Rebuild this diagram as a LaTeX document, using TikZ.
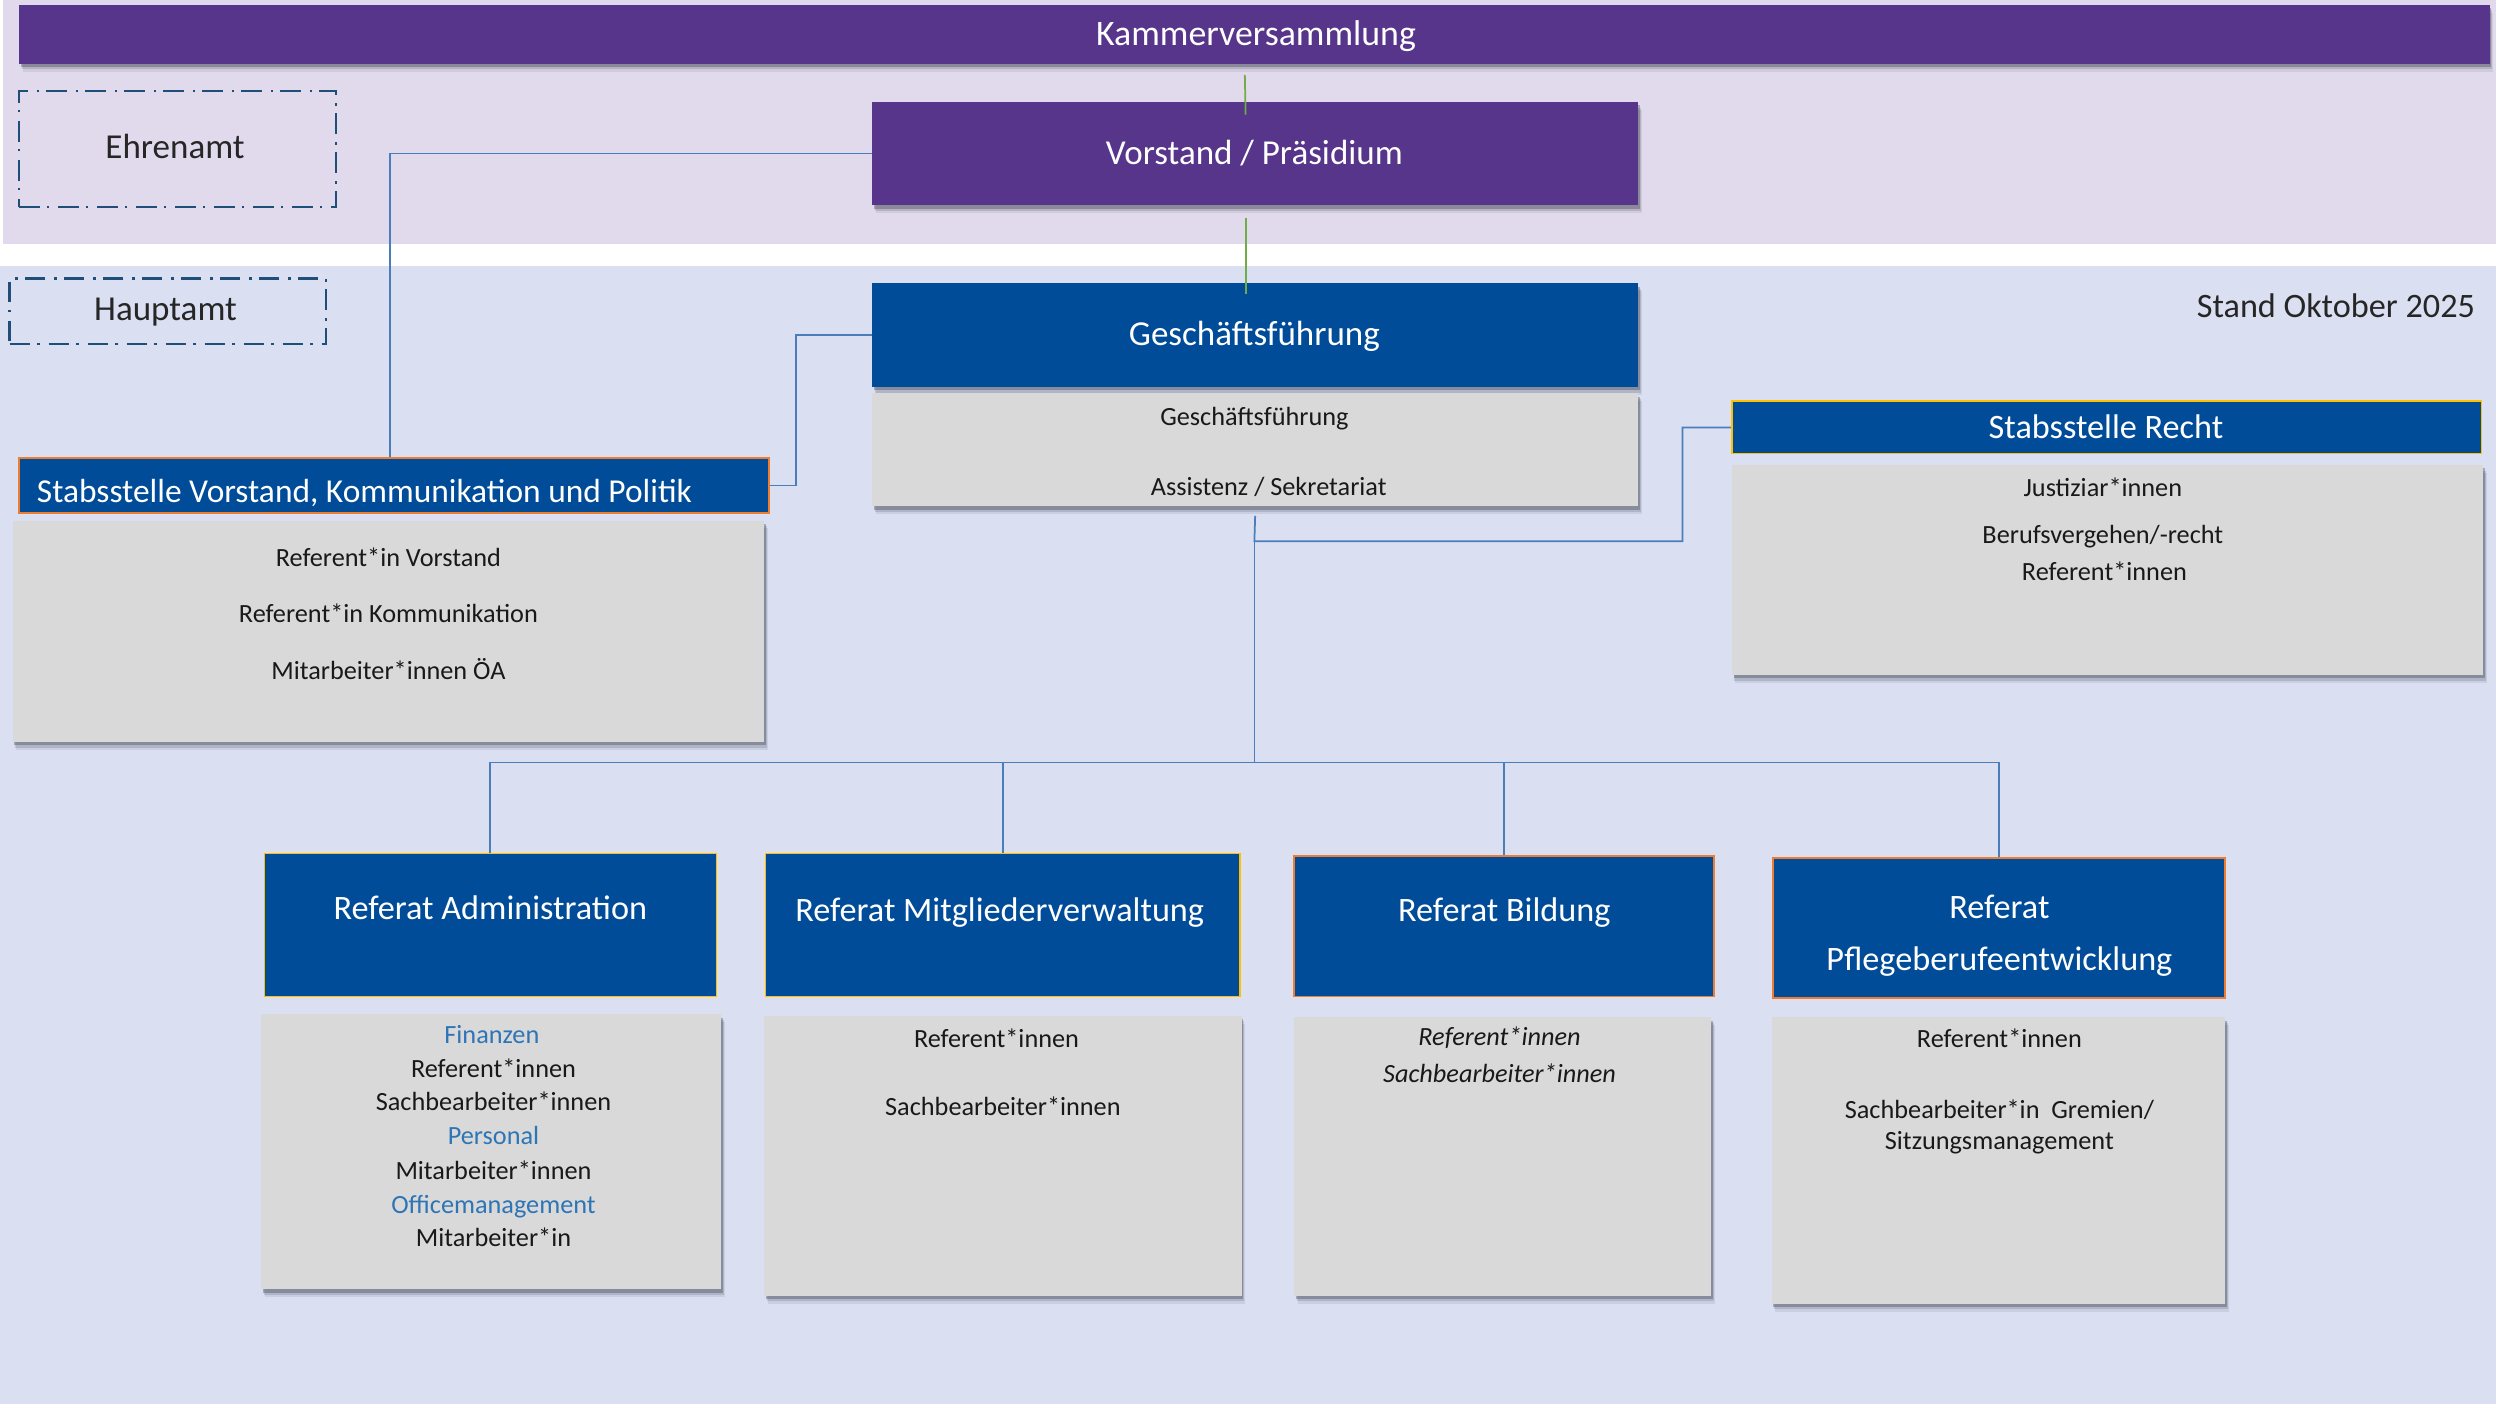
\documentclass[tikz,border=0pt]{standalone}
\usepackage{fontspec}
\setmainfont{Carlito}
\usetikzlibrary{shadows}
\definecolor{kpurple}{HTML}{56358A}
\definecolor{kblue}{HTML}{004C99}
\definecolor{kgray}{HTML}{D9D9D9}
\definecolor{bglav}{HTML}{E1DAEC}
\definecolor{bgblue}{HTML}{DAE0F2}
\definecolor{kyellow}{HTML}{FFC000}
\definecolor{korange}{HTML}{ED7D31}
\definecolor{ktext}{HTML}{262626}
\definecolor{ktextblue}{HTML}{2E75B6}
\definecolor{kline}{HTML}{4A7EBB}
\definecolor{kgreen}{HTML}{70AD47}
\definecolor{kdash}{HTML}{1F4E79}
\definecolor{kshadow}{HTML}{3C4150}
\pgfdeclarelayer{back}
\pgfdeclarelayer{lines}
\pgfsetlayers{back,lines,main}
\tikzset{
  boxbase/.style={anchor=north west, inner sep=0pt, outer sep=0pt},
  shd/.style={
    drop shadow={shadow xshift=2.2pt, shadow yshift=-5pt, opacity=0.10, fill=kshadow},
    drop shadow={shadow xshift=1.6pt, shadow yshift=-3.6pt, opacity=0.18, fill=kshadow},
    drop shadow={shadow xshift=1.0pt, shadow yshift=-2.2pt, opacity=0.35, fill=kshadow}},
  purplebox/.style={fill=kpurple, shd},
  bluebox/.style={fill=kblue},
  graybox/.style={fill=kgray, shd},
  ybord/.style={draw=kyellow, line width=0.9pt},
  obord/.style={draw=korange, line width=1.2pt},
  dbox/.style={draw=kdash, line width=1.4pt, dash pattern=on 13pt off 4.5pt on 1.5pt off 5.5pt},
  tbase/.style={inner sep=0pt},
  htxt/.style={tbase, text=white, font=\fontsize{22}{26}\selectfont},
  rtxt/.style={tbase, text=white, font=\fontsize{21.5}{25}\selectfont},
  dtxt/.style={tbase, text=ktext, font=\fontsize{22}{26}\selectfont},
  gtxt/.style={tbase, text=black!90, font=\fontsize{16.5}{20}\selectfont},
  gbtxt/.style={gtxt, text=ktextblue},
  conn/.style={draw=kline, line width=1.1pt},
  gline/.style={draw=kgreen, line width=1.1pt},
}
\newcommand\rbox[6][]{\node[boxbase,#1,minimum width={(#5-#3)*1pt},minimum height={(#6-#4)*1pt}] (#2) at (#3,#4) {};}
\begin{document}
\begin{tikzpicture}[x=1pt,y=-1pt]
\useasboundingbox (0,0) rectangle (1568,882);
\begin{pgfonlayer}{back}
  \fill[white] (0,0) rectangle (1568,882);
  \fill[bglav] (2,0) rectangle (1568,153);
  \fill[bgblue] (0,167) rectangle (1568,882);
\end{pgfonlayer}

% top level
\rbox[purplebox]{kv}{12}{3}{1564}{40}
\node[htxt, font=\fontsize{22.5}{26}\selectfont] (kvt) at (789,23) {Kammerversammlung};
\rbox[dbox]{ehr}{12}{57}{211}{130}
\node[dtxt] (ehrt) at (110,92) {Ehrenamt};
\rbox[purplebox]{vor}{548}{64}{1029}{129}
\node[htxt] (vort) at (788,96) {Vorstand / Präsidium};
\rbox[dbox]{haupt}{6}{175}{205}{216}
\node[dtxt] (hauptt) at (104,196) {Hauptamt};
\node[dtxt, anchor=east, font=\fontsize{21.5}{25}\selectfont] (stand) at (1555,192) {Stand Oktober 2025};

% Geschaeftsfuehrung
\rbox[bluebox, shd]{gf}{548}{178}{1029}{243}
\node[htxt] (gft) at (788,211) {Geschäftsführung};
\rbox[graybox]{gfg}{548}{247}{1029}{318}
\node[gtxt] (gfg1) at (788,263) {Geschäftsführung};
\node[gtxt] (gfg2) at (797,306) {Assistenz / Sekretariat};

% Stabsstelle Recht
\rbox[bluebox, ybord]{recht}{1088}{252}{1559}{285}
\node[rtxt] (rechtt) at (1323,268) {Stabsstelle Recht};
\rbox[graybox]{rechtg}{1088}{292}{1560}{424}
\node[gtxt] (rg1) at (1321,306) {Justiziar*innen};
\node[gtxt] (rg2) at (1321,337) {Berufsvergehen/-recht};
\node[gtxt] (rg3) at (1322,359) {Referent*innen};

% Stabsstelle Vorstand
\rbox[bluebox, obord]{svk}{12}{288}{483}{322}
\node[rtxt, anchor=west, font=\fontsize{21}{25}\selectfont] (svkt) at (23,310) {Stabsstelle Vorstand, Kommunikation und Politik};
\rbox[graybox]{svkg}{8}{327}{480}{466}
\node[gtxt] (sg1) at (244,350) {Referent*in Vorstand};
\node[gtxt] (sg2) at (244,385) {Referent*in Kommunikation};
\node[gtxt] (sg3) at (244,420) {Mitarbeiter*innen ÖA};

% Referat Administration
\rbox[bluebox, ybord]{ra}{166}{536}{450}{626}
\node[rtxt] (rat) at (308,570) {Referat Administration};
\rbox[graybox]{rag}{164}{637}{453}{810}
\node[gbtxt] (ra1) at (309,650) {Finanzen};
\node[gtxt] (ra2) at (310,671) {Referent*innen};
\node[gtxt] (ra3) at (310,692) {Sachbearbeiter*innen};
\node[gbtxt] (ra4) at (310,713) {Personal};
\node[gtxt] (ra5) at (310,735) {Mitarbeiter*innen};
\node[gbtxt] (ra6) at (310,758) {Officemanagement};
\node[gtxt] (ra7) at (310,777) {Mitarbeiter*in};

% Referat Mitgliederverwaltung
\rbox[bluebox, ybord]{rm}{481}{536}{779}{626}
\node[rtxt] (rmt) at (628,573) {Referat Mitgliederverwaltung};
\rbox[graybox]{rmg}{480}{638}{780}{814}
\node[gtxt] (rm1) at (626,652) {Referent*innen};
\node[gtxt] (rm2) at (630,695) {Sachbearbeiter*innen};

% Referat Bildung
\rbox[bluebox, obord]{rb}{813}{538}{1077}{626}
\node[rtxt] (rbt) at (945,573) {Referat Bildung};
\rbox[graybox]{rbg}{813}{639}{1075}{814}
\node[gtxt, font=\fontsize{16.5}{20}\selectfont\itshape] (rb1) at (942,652) {Referent*innen};
\node[gtxt, font=\fontsize{16.5}{20}\selectfont\itshape] (rb2) at (942,674) {Sachbearbeiter*innen};

% Referat Pflegeberufeentwicklung
\rbox[bluebox, obord]{rp}{1114}{539}{1398}{627}
\node[rtxt] (rpt1) at (1256,570) {Referat};
\node[rtxt] (rpt2) at (1256,604) {Pflegeberufeentwicklung};
\rbox[graybox]{rpg}{1113}{639}{1398}{819}
\node[gtxt] (rp1) at (1256,652) {Referent*innen};
\node[gtxt] (rp2) at (1256,697) {Sachbearbeiter*in\ \ Gremien/};
\node[gtxt] (rp3) at (1256,718) {Sitzungsmanagement};

% connectors
\coordinate (j1) at (788,340);
\coordinate (jr) at (1057,340);
\coordinate (j2) at (788,479);
\begin{pgfonlayer}{lines}
  \draw[conn] (vor.west) -| (245,288);
  \draw[conn] (gf.west) -- ++(-48,0) |- (svk.east);
  \draw[conn] ([yshift=-6pt]gfg.south) -- (j1) -- (jr) |- (recht.west);
  \draw[conn] (j1) -- (j2);
  \draw[conn] (ra.north) |- (j2) -| (rp.north);
  \draw[conn] (rm.north) -- (rm.north |- j2);
  \draw[conn] (rb.north) -- (rb.north |- j2);
\end{pgfonlayer}
\draw[gline] ([xshift=-6pt,yshift=-7pt]kv.south) -- ([xshift=-6pt,yshift=-8pt]vor.north);
\draw[gline] ([xshift=-6pt,yshift=-8pt]vor.south) -- ([xshift=-6pt,yshift=-7pt]gf.north);
\end{tikzpicture}
\end{document}
